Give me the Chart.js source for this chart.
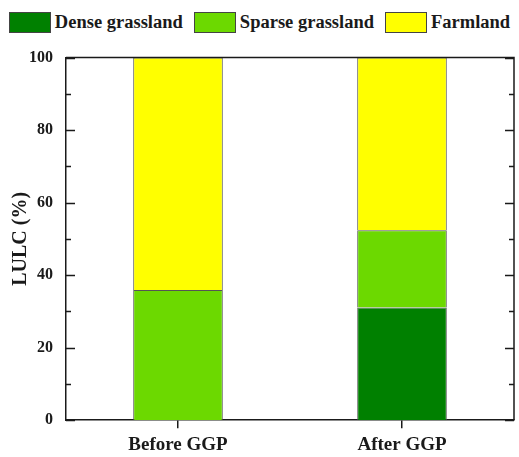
<!DOCTYPE html>
<html>
<head>
<meta charset="utf-8">
<script src="https://cdn.jsdelivr.net/npm/chart.js@4"></script>
<style>
  html, body { margin: 0; padding: 0; background: #fff; overflow: hidden; }
  body { position: relative; width: 519px; height: 457px; }
  #legend {
    position: absolute; left: 0; top: 0; width: 519px;
    height: 45px; display: flex; align-items: center; justify-content: center;
    font: bold 18.5px "Liberation Serif", "Times New Roman", serif; color: #1a1a1a;
  }
  #legend .item { display: flex; align-items: center; margin: 0 5.5px; }
  #legend .box { width: 40px; height: 19px; border: 1px solid #444; margin-right: 4px; }
  #wrap { position: absolute; left: 0; top: 35px; width: 519px; height: 426px; }
</style>
</head>
<body>
<div id="legend"></div>
<div id="wrap"><canvas id="lulcChart"></canvas></div>
<script>
// Data
const periods = ['Before GGP', 'After GGP'];
const denseGrassland = [0, 31.1];
const sparseGrassland = [35.9, 21.3];
const farmland = [64.1, 47.6];
const yTicks = [0, 20, 40, 60, 80, 100];

const FONT = '"Liberation Serif", "Times New Roman", serif';
const INK = '#1a1a1a';

// Inner ticks + closed frame, like the Origin-style plot
const framePlugin = {
  id: 'frame',
  afterDraw(chart) {
    const { ctx, chartArea: a, scales: { y } } = chart;
    ctx.save();
    ctx.strokeStyle = INK;
    ctx.lineWidth = 1.5;
    ctx.beginPath();
    ctx.moveTo(a.left, a.top);
    ctx.lineTo(a.right, a.top);
    ctx.lineTo(a.right, a.bottom);
    ctx.stroke();
    for (let v = 0; v <= 100; v += 10) {
      const py = Math.round(y.getPixelForValue(v)) + 0.5;
      const len = v % 20 === 0 ? 9 : 5;
      ctx.beginPath();
      ctx.moveTo(a.left, py);
      ctx.lineTo(a.left + len, py);
      ctx.moveTo(a.right, py);
      ctx.lineTo(a.right - len, py);
      ctx.stroke();
    }
    ctx.restore();
  }
};

const barStyle = { borderColor: '#555', borderWidth: 1, barPercentage: 0.4, categoryPercentage: 1 };

const chart = new Chart(document.getElementById('lulcChart'), {
  type: 'bar',
  data: {
    labels: periods,
    datasets: [
      { label: 'Dense grassland', data: denseGrassland, backgroundColor: '#008000', ...barStyle },
      { label: 'Sparse grassland', data: sparseGrassland, backgroundColor: '#6cd900', ...barStyle },
      { label: 'Farmland', data: farmland, backgroundColor: '#ffff00', ...barStyle }
    ]
  },
  options: {
    responsive: true,
    maintainAspectRatio: false,
    animation: false,
    layout: { padding: { left: 9, right: 5, top: 0, bottom: 0 } },
    plugins: {
      tooltip: { enabled: false },
      legend: { display: false }
    },
    scales: {
      x: {
        stacked: true,
        offset: true,
        grid: { display: true, offset: false, drawOnChartArea: false, drawTicks: true, tickLength: 8, color: INK, lineWidth: 1.5 },
        border: { display: true, color: INK, width: 1.5 },
        ticks: { color: INK, padding: 5, font: { family: FONT, size: 19, weight: 'bold' } }
      },
      y: {
        stacked: true,
        min: 0,
        max: 100,
        afterBuildTicks(scale) { scale.ticks = yTicks.map(v => ({ value: v })); },
        afterFit(scale) { scale.width = 57; },
        grid: { display: false, drawTicks: false },
        border: { display: true, color: INK, width: 1.5 },
        ticks: { color: INK, padding: 13, font: { family: FONT, size: 16, weight: 'bold' } },
        title: { display: true, text: 'LULC (%)', color: INK, padding: 0, font: { family: FONT, size: 20, weight: 'bold' } }
      }
    }
  },
  plugins: [framePlugin]
});

// HTML legend built from the datasets
const legendEl = document.getElementById('legend');
chart.data.datasets.forEach(ds => {
  const item = document.createElement('div');
  item.className = 'item';
  const box = document.createElement('span');
  box.className = 'box';
  box.style.background = ds.backgroundColor;
  const txt = document.createElement('span');
  txt.textContent = ds.label;
  item.append(box, txt);
  legendEl.appendChild(item);
});
</script>
</body>
</html>
